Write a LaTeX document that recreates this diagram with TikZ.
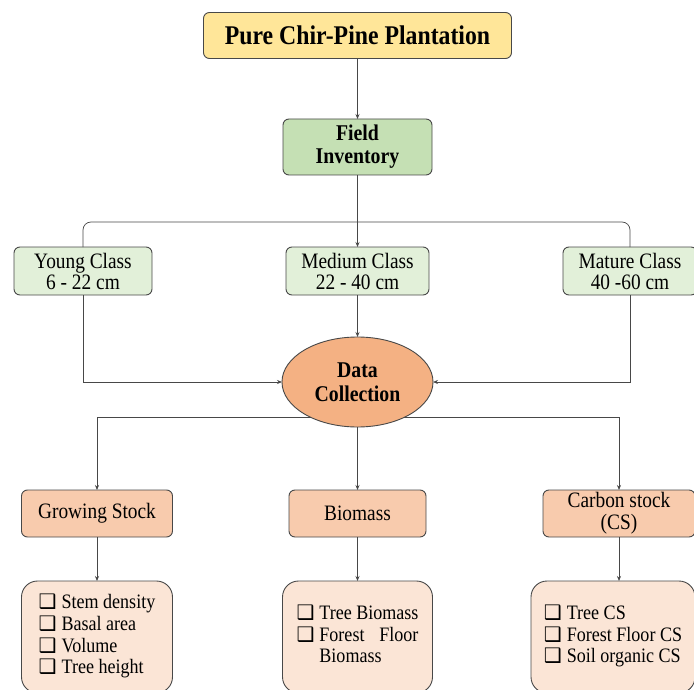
\documentclass[tikz,border=0pt]{standalone}
\usepackage{fontspec}
\setmainfont{Liberation Serif}[FakeStretch=0.88]
\newfontfamily\symfont{DejaVu Sans}
\usetikzlibrary{positioning,calc,arrows.meta,shapes.geometric}

\definecolor{edgegray}{HTML}{484848}
\definecolor{plantfill}{HTML}{FFE699}
\definecolor{fieldfill}{HTML}{C5E0B4}
\definecolor{classfill}{HTML}{E2F0D9}
\definecolor{datafill}{HTML}{F4B183}
\definecolor{stagefill}{HTML}{F8CBAD}
\definecolor{listfill}{HTML}{FBE5D6}

\newcommand{\chk}{{\symfont\fontsize{20}{20}\selectfont ❑}}
\newlength\bmwidth

\begin{document}
\begin{tikzpicture}[x=1pt,y=-1pt,
   box/.style={draw=edgegray,line width=0.9pt,rounded corners=6pt,align=center,
               inner sep=2pt,outer sep=0pt},
   reg/.style={font=\fontsize{22}{21}\selectfont},
   listbox/.style={box,fill=listfill,rounded corners=16pt,font=\fontsize{20.5}{21.6}\selectfont},
   conn/.style={draw=edgegray,line width=0.7pt},
   arr/.style={conn,-{Stealth[length=5pt,width=4pt]}}]
   \useasboundingbox (0,0) rectangle (694,690);
   \clip (0,0) rectangle (694,690);
   % top of the chart
   \node (plant) [box,fill=plantfill,minimum width=308pt,minimum height=46pt,
                  font=\bfseries\fontsize{27}{26}\selectfont] at (357.5,35.5) {Pure Chir-Pine Plantation};
   \node (field) [box,fill=fieldfill,minimum width=149pt,minimum height=56pt,
                  font=\bfseries\fontsize{22.5}{23}\selectfont] at (357.5,147) {Field\\Inventory};
   % diameter classes
   \node (young)  [box,reg,fill=classfill,minimum width=138pt,minimum height=48pt] at (83,271) {Young Class\\6 - 22 cm};
   \node (medium) [box,reg,fill=classfill,minimum width=143pt,minimum height=48pt] at (357.5,271) {Medium Class\\22 - 40 cm};
   \node (mature) [box,reg,fill=classfill,minimum width=134pt,minimum height=48pt] at (630,271) {Mature Class\\40 -60 cm};
   \node (data) [ellipse,draw=edgegray,line width=0.9pt,fill=datafill,outer sep=0pt,inner sep=0pt,
                 minimum width=151pt,minimum height=90pt,align=center,
                 font=\bfseries\fontsize{22.5}{24}\selectfont] at (357.5,382) {Data\\Collection};
   % what is measured
   \node (growing) [box,reg,fill=stagefill,minimum width=151pt,minimum height=47pt] at (97,513.5) {Growing Stock};
   \node (biomass) [box,reg,fill=stagefill,minimum width=137pt,minimum height=47pt] at (357.5,513.5) {Biomass};
   \node (carbon)  [box,reg,fill=stagefill,minimum width=152pt,minimum height=47pt,
                    font=\fontsize{22}{22}\selectfont] at (619,513.5) {Carbon stock\\(CS)};
   \node (growlist) [listbox,minimum width=151pt,minimum height=112pt] at (97,637)
      {\begin{tabular}{@{}l@{\hspace{5pt}}l@{}}
        \chk & Stem density\\ \chk & Basal area\\ \chk & Volume\\ \chk & Tree height
       \end{tabular}};
   \node (biolist) [listbox,minimum width=150pt,minimum height=112pt] at (357.5,637)
      {\settowidth{\bmwidth}{Tree Biomass}%
       \begin{tabular}{@{}l@{\hspace{5pt}}l@{}}
        \chk & Tree Biomass\\ \chk & \makebox[\bmwidth]{Forest\hfill Floor}\\ & Biomass
       \end{tabular}};
   \node (carblist) [listbox,minimum width=164pt,minimum height=112pt] at (613,637)
      {\begin{tabular}{@{}l@{\hspace{5pt}}l@{}}
        \chk & Tree CS\\ \chk & Forest Floor CS\\ \chk & Soil organic CS
       \end{tabular}};
   % connectors
   \draw [arr] (plant) -- (field);
   \draw [arr] (field) -- (medium);
   \draw [conn,rounded corners=8pt] (young.north) -- ++(0,-25) -| (mature.north);
   \draw [arr] (young.south) |- (data.west);
   \draw [arr] (mature.south) |- (data.east);
   \draw [arr] (medium) -- (data);
   \draw [arr] (data.217) -| (growing.north);
   \draw [arr] (data.-37) -| (carbon.north);
   \draw [arr] (data) -- (biomass);
   \draw [arr] (growing) -- (growlist);
   \draw [arr] (biomass) -- (biolist);
   \draw [arr] (carbon.south) -- (carbon.south |- carblist.north);
\end{tikzpicture}
\end{document}
